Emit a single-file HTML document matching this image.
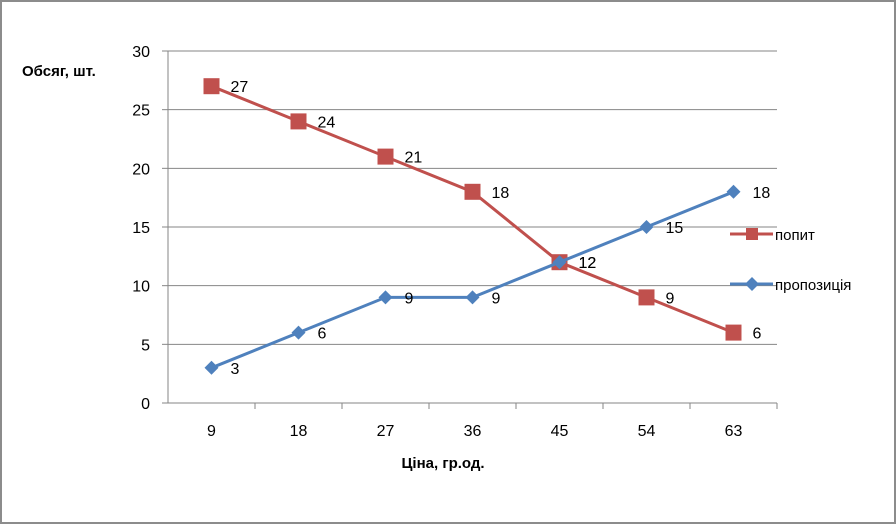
<!DOCTYPE html>
<html><head><meta charset="utf-8"><style>
body{margin:0;background:#fff}
svg{display:block;font-family:"Liberation Sans",sans-serif}
</style></head><body>
<svg width="896" height="524">
<rect x="1" y="1" width="894" height="522" fill="#fff" stroke="#8c8c8c" stroke-width="2"/>
<g id="grid"></g><g id="axes"></g><g id="series"></g>
<text x="22" y="76" font-size="15" font-weight="bold">Обсяг, шт.</text>
<text x="443" y="468" font-size="15" font-weight="bold" text-anchor="middle">Ціна, гр.од.</text>
<g>
<line x1="730" y1="234" x2="773" y2="234" stroke="#c0504d" stroke-width="3"/>
<rect x="746" y="228" width="12" height="12" fill="#c0504d"/>
<text x="775" y="240" font-size="15">попит</text>
<line x1="730" y1="284" x2="773" y2="284" stroke="#4f81bd" stroke-width="3"/>
<polygon points="752,277 759,284 752,291 745,284" fill="#4f81bd"/>
<text x="775" y="290" font-size="15">пропозиція</text>
</g>
</svg>
<script>
const categories=["9","18","27","36","45","54","63"];
const demand=[27,24,21,18,12,9,6];
const supply=[3,6,9,9,12,15,18];
const yTicks=[0,5,10,15,20,25,30];
const NS="http://www.w3.org/2000/svg";
const x0=168,x1=777,y0=403,y1=51;
const bw=(x1-x0)/categories.length;
const X=i=>x0+bw*(i+0.5);
const Y=v=>y0-(v/30)*(y0-y1);
function mk(t,a,p,txt){const e=document.createElementNS(NS,t);for(const k in a)e.setAttribute(k,a[k]);if(txt!=null)e.textContent=txt;p.appendChild(e);return e;}
const grid=document.getElementById('grid'),axes=document.getElementById('axes'),ser=document.getElementById('series');
yTicks.forEach(v=>{
 if(v>0){const g=mk('line',{x1:x0,x2:x1,y1:Y(v),y2:Y(v),stroke:'#868686','stroke-width':1},grid);
 
 }
 mk('line',{x1:x0-6,x2:x0,y1:Y(v),y2:Y(v),stroke:'#868686'},axes);
 const t=mk('text',{x:x0-18,y:Y(v)+6,'font-size':16,'text-anchor':'end'},axes,v);
 
 
});
mk('line',{x1:x0,x2:x0,y1:y1,y2:y0,stroke:'#868686'},axes);
mk('line',{x1:x0,x2:x1,y1:y0,y2:y0,stroke:'#868686'},axes);
categories.forEach((c,i)=>{
 mk('line',{x1:x0+bw*(i+1),x2:x0+bw*(i+1),y1:y0,y2:y0+6,stroke:'#868686'},axes);
 const t=mk('text',{x:X(i),y:y0+33,'font-size':16,'text-anchor':'middle'},axes,c);
 
 
});
function series(data,color,name,marker){
 const pl=mk('polyline',{points:data.map((v,i)=>X(i)+','+Y(v)).join(' '),fill:'none',stroke:color,'stroke-width':3},ser);
 
 
 data.forEach((v,i)=>{
  const x=X(i),y=Y(v);let m;
  if(marker==='sq')m=mk('rect',{x:x-8,y:y-8,width:16,height:16,fill:color},ser);
  else m=mk('polygon',{points:`${x},${y-7} ${x+7},${y} ${x},${y+7} ${x-7},${y}`,fill:color},ser);
  
  
  const t=mk('text',{x:x+19,y:y+6,'font-size':16},ser,v);
  
  
 });
}
series(demand,'#c0504d','demand','sq');
series(supply,'#4f81bd','supply','di');
</script>
</body></html>
